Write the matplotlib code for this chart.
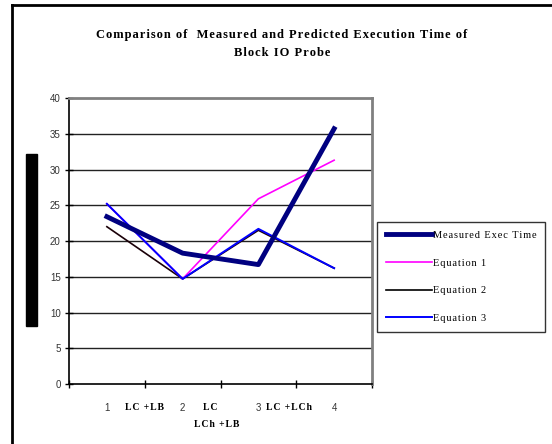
import matplotlib
matplotlib.use('Agg')
import matplotlib.pyplot as plt
from matplotlib.patches import Rectangle
from matplotlib.lines import Line2D

# execution time per probe configuration
categories = ['1', '2', '3', '4']
measured = [23.4, 18.3, 16.7, 35.7]
equation_1 = [25.2, 14.7, 25.9, 31.3]
equation_2 = [22.0, 14.7, 21.5, 16.2]
equation_3 = [25.2, 14.7, 21.7, 16.2]
config_names = ['LC +LB', 'LC', 'LC +LCh', 'LCh +LB']

SERIF = ['Liberation Serif', 'DejaVu Serif']


def spaced(s):
    # widen lettering with hair spaces
    return '\u200a'.join(s)


fig = plt.figure(figsize=(5.52, 4.44), dpi=100)
fig.patch.set_facecolor('white')

# outer frame (left and top edges only)
fig.add_artist(Line2D([12 / 552, 12 / 552], [0, 1 - 5 / 444], color='black', lw=2))
fig.add_artist(Line2D([12 / 552, 1], [1 - 5 / 444, 1 - 5 / 444], color='black', lw=2))

# solid block where the axis title sits
fig.add_artist(Rectangle((26 / 552, 1 - 326 / 444), 11 / 552, 172 / 444,
                         transform=fig.transFigure, color='black'))

ax = fig.add_axes([69 / 552, 1 - 384 / 444, 303 / 552, 286 / 444])
x = [0.5, 1.5, 2.5, 3.5]

for yv in range(5, 40, 5):
    ax.axhline(yv, color='#222222', lw=1, zorder=0)

ax.plot(x, equation_2, color='#1a0008', lw=1.2, zorder=2, label='Equation 2')
ax.plot(x, equation_1, color='#ff00ff', lw=1.2, zorder=3, label='Equation 1')
ax.plot(x, equation_3, color='#0000ff', lw=1.4, zorder=4, label='Equation 3')
ax.plot(x, measured, color='#000080', lw=3.5, zorder=5, label='Measured Exec Time')

ax.set_xlim(0, 4)
ax.set_ylim(0, 40)
ax.set_yticks(range(0, 45, 5))
ax.set_xticks([0, 1, 2, 3, 4])
ax.set_xticklabels([])
ax.tick_params(axis='both', direction='inout', length=6, width=1,
               labelsize=7, colors='black')
ax.tick_params(axis='y', pad=3, labelcolor='#333333')
for lbl in ax.get_yticklabels():
    lbl.set_fontfamily('Liberation Sans')

for side in ['top', 'right']:
    ax.spines[side].set_color('#808080')
    ax.spines[side].set_linewidth(2)
ax.spines['left'].set_linewidth(1.2)
ax.spines['bottom'].set_linewidth(1.2)

# category numbers below each point
for xi, c in zip(x, categories):
    ax.text(xi, -0.065, c, transform=ax.get_xaxis_transform(), ha='center', va='top',
            fontsize=7, family='Liberation Sans', color='#333333')

# configuration names between categories
name_pos = [(1.0, -0.065), (1.86, -0.065), (2.9, -0.065), (1.95, -0.125)]
for (xi, yi), name in zip(name_pos, config_names):
    ax.text(xi, yi, spaced(name), transform=ax.get_xaxis_transform(), ha='center',
            va='top', fontsize=7, family=SERIF, fontweight='bold')

title_lines = ['Comparison of  Measured and Predicted Execution Time of', 'Block IO Probe']
fig.text(282 / 552, 1 - 44 / 444, '\n'.join(spaced(t) for t in title_lines),
         ha='center', va='center', fontsize=9, family=SERIF,
         fontweight='bold', linespacing=1.7)

handles, labels = ax.get_legend_handles_labels()
order = [3, 1, 0, 2]
leg = fig.legend([handles[i] for i in order], [spaced(labels[i]) for i in order],
                 loc='upper left', bbox_to_anchor=(377 / 552, 1 - 222 / 444),
                 frameon=True, fancybox=False, edgecolor='black',
                 prop={'family': SERIF, 'size': 7.5},
                 handlelength=4.4, handletextpad=0.1, labelspacing=1.75,
                 borderpad=0.85, borderaxespad=0)
leg.get_frame().set_linewidth(1)
for h in leg.get_lines():
    if h.get_label().endswith('2'):
        h.set_color('black')

fig.savefig('out.png', dpi=100)
